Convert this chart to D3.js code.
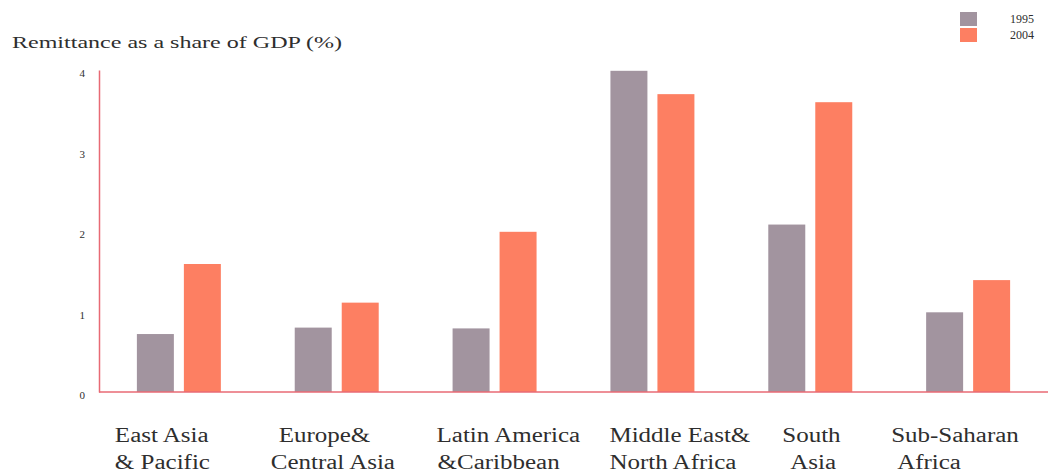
<!DOCTYPE html>
<html>
<head>
<meta charset="utf-8">
<script src="https://cdn.jsdelivr.net/npm/d3@7"></script>
<style>
  html, body { margin: 0; padding: 0; background: #fff; }
  svg { display: block; }
  text { font-family: "Liberation Serif", "DejaVu Serif", serif; fill: #2e2e2e; }
</style>
</head>
<body>
<svg id="chart" width="1050" height="474"></svg>
<script>
// ---- data ----
const categories = [
  "East Asia\n& Pacific",
  "Europe&\nCentral Asia",
  "Latin America\n&Caribbean",
  "Middle East&\nNorth Africa",
  "South\nAsia",
  "Sub-Saharan\nAfrica"
];
const seriesNames = ["1995", "2004"];
const values1995 = [0.72, 0.80, 0.79, 3.99, 2.08, 0.99];
const values2004 = [1.59, 1.11, 1.99, 3.70, 3.60, 1.39];
const yTicks = [0, 1, 2, 3, 4];
const yTitle = "Remittance as a share of GDP (%)";

// ---- layout ----
const W = 1050, H = 474;
const axisX = 99, baseY = 392, topY = 70;
const colors = { "1995": "#a2949f", "2004": "#fd7f62" };
const axisColor = "#e86a74";
// per-category label tweaks (offset of each line's left edge from group centre)
const labelDx = [[-64, -64], [-58, -66], [-58, -57], [-43, -43], [-28, -20], [-77, -71]];

const svg = d3.select("#chart");

const x0 = d3.scaleBand().domain(categories).range([axisX, 1048])
  .paddingInner(0.468).paddingOuter(0.24);
const x1 = d3.scaleBand().domain(seriesNames).range([0, x0.bandwidth()]).paddingInner(0.213);
const y = d3.scaleLinear().domain([0, 4]).range([baseY, topY]);

const rows = categories.map((c, i) => ({ cat: c, vals: [
  { key: "1995", v: values1995[i] }, { key: "2004", v: values2004[i] }] }));

// bars
const g = svg.append("g").selectAll("g").data(rows).join("g")
  .attr("transform", d => `translate(${x0(d.cat)},0)`);
g.selectAll("rect").data(d => d.vals).join("rect")
  .attr("x", d => x1(d.key))
  .attr("width", x1.bandwidth())
  .attr("y", d => y(d.v))
  .attr("height", d => y(0) - y(d.v))
  .attr("fill", d => colors[d.key]);

// y axis
const yAxis = d3.axisLeft(y).tickValues(yTicks).tickSize(0).tickPadding(14).tickFormat(d3.format("d"));
const ya = svg.append("g").attr("transform", `translate(${axisX},0)`).call(yAxis);
ya.select(".domain").attr("stroke", axisColor).attr("stroke-width", 1.5);
ya.selectAll("text").attr("font-family", "Liberation Serif, serif")
  .attr("font-size", 11).attr("fill", "#555").attr("dy", "0.62em");

// baseline
const xAxis = d3.axisBottom(x0).tickSize(0).tickFormat("");
const xa = svg.append("g").attr("transform", `translate(0,${baseY})`).call(xAxis);
xa.select(".domain").attr("stroke", axisColor).attr("stroke-width", 1.5)
  .attr("d", `M${axisX},0H1048`);

// category labels
const lbl = svg.append("g");
categories.forEach((c, i) => {
  const cx = x0(c) + x0.bandwidth() / 2;
  c.split("\n").forEach((line, j) => {
    lbl.append("text")
      .attr("transform", `translate(${cx + labelDx[i][j]},${442 + j * 27}) scale(1.25,1)`)
      .attr("font-size", 20)
      .text(line);
  });
});

// title
svg.append("text").attr("x", 12).attr("y", 48).attr("font-size", 17)
  .attr("textLength", 330).attr("lengthAdjust", "spacingAndGlyphs")
  .attr("fill", "#3a3a3a").text(yTitle);

// legend
const leg = svg.append("g").selectAll("g").data(seriesNames).join("g")
  .attr("transform", (d, i) => `translate(960,${12 + i * 16})`);
leg.append("rect").attr("width", 17).attr("height", 14).attr("fill", d => colors[d]);
leg.append("text").attr("x", 50).attr("y", 11).attr("font-size", 12)
  .attr("fill", "#666").text(d => d);
</script>
</body>
</html>
